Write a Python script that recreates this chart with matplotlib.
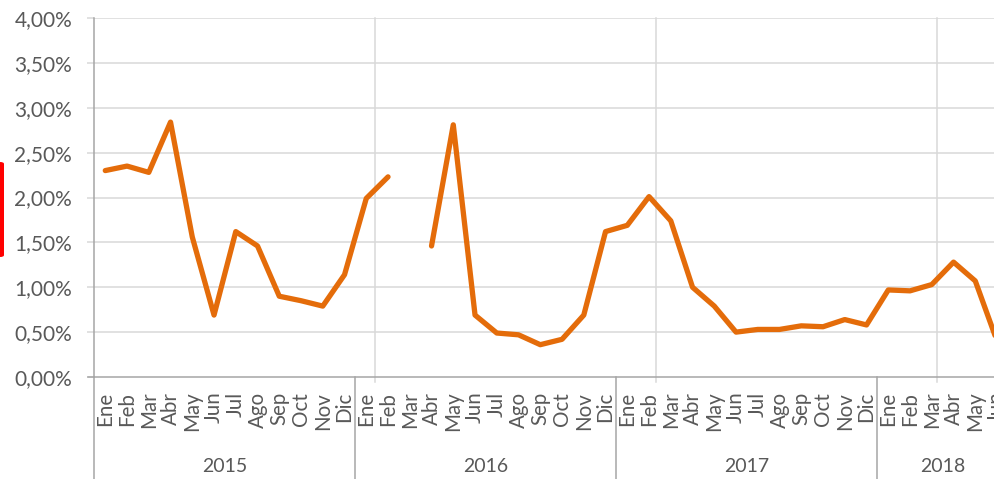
import matplotlib
matplotlib.use("Agg")
import matplotlib.pyplot as plt
import numpy as np
from matplotlib.patches import FancyBboxPatch
import matplotlib.transforms as mtransforms

months = ["Ene", "Feb", "Mar", "Abr", "May", "Jun", "Jul", "Ago", "Sep", "Oct", "Nov", "Dic"]
years = ["2015", "2016", "2017", "2018"]
months_2018 = 6

v2015 = [2.30, 2.35, 2.28, 2.84, 1.56, 0.69, 1.62, 1.46, 0.90, 0.85, 0.79, 1.14]
v2016 = [1.99, 2.23, np.nan, 1.46, 2.81, 0.69, 0.49, 0.47, 0.36, 0.42, 0.69, 1.62]
v2017 = [1.69, 2.01, 1.74, 1.00, 0.79, 0.50, 0.53, 0.53, 0.57, 0.56, 0.64, 0.58]
v2018 = [0.97, 0.96, 1.03, 1.28, 1.07, 0.40]

values = np.array(v2015 + v2016 + v2017 + v2018, dtype=float)
labels = months * 3 + months[:months_2018]
x = np.arange(len(values))

W, H = 994, 479
fig = plt.figure(figsize=(W / 100, H / 100), dpi=100)
left_px, right_px, top_px, bottom_px = 94.4, 994, 18, 377
ax = fig.add_axes([left_px / W, (H - bottom_px) / H, (right_px - left_px) / W, (bottom_px - top_px) / H])

FONT = "Lato"
TXT = "#595959"
GRID = "#D9D9D9"
AX = "#A6A6A6"
ORANGE = "#E46C0A"

ax.plot(x, values, color=ORANGE, lw=3.8, solid_capstyle="round", solid_joinstyle="round", zorder=3)

ax.set_xlim(-0.5, 40.86)
ax.set_ylim(0, 4)
yt = np.arange(0, 4.01, 0.5)
ax.set_yticks(yt)
ax.set_yticklabels([f"{v:.2f}%".replace(".", ",") for v in yt], fontsize=15, color=TXT, family=FONT)
ax.tick_params(axis="y", length=5, width=1.1, color=GRID, pad=11)
ax.set_xticks([])
for v in yt[1:]:
    ax.axhline(v, color=GRID, lw=1.1, zorder=1)

trans = mtransforms.blended_transform_factory(ax.transData, ax.transAxes)

# vertical gridlines
for gx in [12.42, 25.32, 38.22]:
    ax.plot([gx, gx], [-0.014, 1], transform=trans, color=GRID, lw=1.1, clip_on=False, zorder=1)

for s in ["top", "right"]:
    ax.spines[s].set_visible(False)
for s in ["left", "bottom"]:
    ax.spines[s].set_color(AX)
    ax.spines[s].set_linewidth(1.1)

# extend bottom axis line to the left
ax.plot([-0.8, -0.5], [0, 0], transform=trans, color=AX, lw=1.1, clip_on=False)
# group separators below axis
for sx in [-0.5, 11.5, 23.5, 35.5]:
    ax.plot([sx, sx], [0, -0.3], transform=trans, color=AX, lw=1.1, clip_on=False)

# month labels
for i, lab in enumerate(labels):
    ax.text(i, -0.041, lab, transform=trans, rotation=90, ha="center", va="top",
            fontsize=14.8, color=TXT, family=FONT, clip_on=False)

# year labels
year_centers = [5.5, 17.5, 29.5, 35.5 + months_2018 / 2]
y_year = -(467 - bottom_px) / (bottom_px - top_px)
for c, yr in zip(year_centers, years):
    ax.text(c, y_year, yr, transform=trans, ha="center", va="center",
            fontsize=14, color=TXT, family=FONT, clip_on=False)

# red marker at left edge
fig.patches.append(FancyBboxPatch((-4 / W, (H - 257) / H), 8 / W, 95 / H,
                                  boxstyle="round,pad=0,rounding_size=0.004",
                                  transform=fig.transFigure, color="#FF0000", lw=0))

fig.savefig("out.png", dpi=100)
